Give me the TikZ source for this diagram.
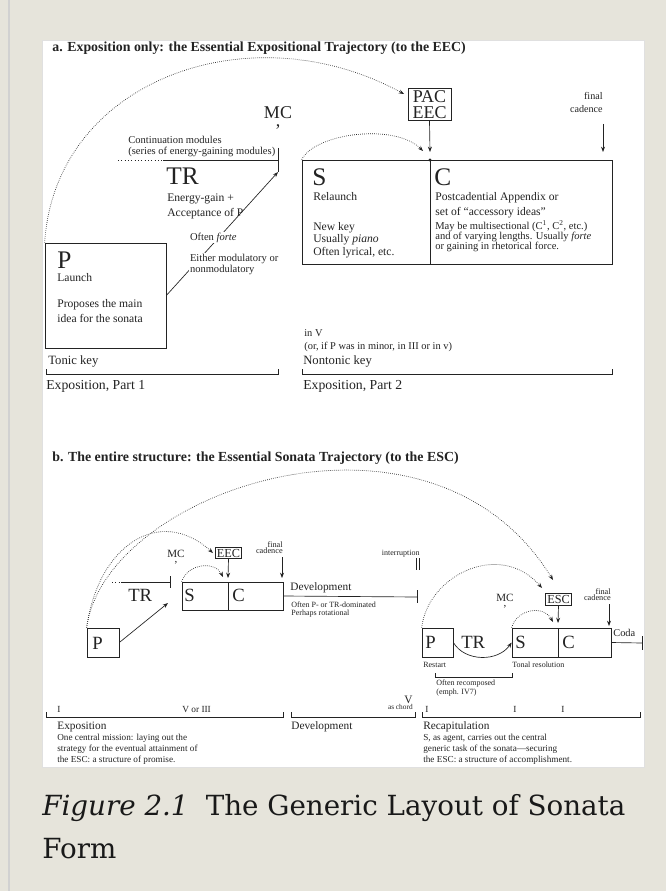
\documentclass[tikz,border=0pt]{standalone}
\usepackage{fontspec}
\setmainfont{Liberation Serif}
\newfontfamily\capfont{DejaVu Serif}
\usetikzlibrary{arrows.meta,fit}

\definecolor{pagebg}{RGB}{230,228,219}
\definecolor{ink}{RGB}{35,35,35}
\newcommand{\fsz}[2]{\fontsize{#1}{#2}\selectfont}

\tikzset{
  txt/.style={inner sep=0pt, anchor=base west},
  rtxt/.style={inner sep=0pt, anchor=base east},
  caesura/.style={inner sep=0pt, anchor=north, align=center},
  box/.style={draw, inner sep=0pt},
  lbox/.style={draw, inner sep=1.2pt},
  traj/.style={densely dotted, ->},
  mask/.style={fill=white, inner sep=0.5pt},
}

\begin{document}
\begin{tikzpicture}[x=0.75pt, y=-0.75pt, line width=0.5pt, >={Stealth[length=4pt,width=3pt]}, color=ink]
    \fill[pagebg] (0,0) rectangle (666,891);
    \useasboundingbox (0,0) rectangle (666,891);
    \draw[black!18, line width=1.5pt] (9,0) -- (9,891);
    \draw[black!12, fill=white] (42,40) rectangle (644,767);

    % a. exposition only
    \node[txt, font=\fsz{10.4}{12}\bfseries] (ttla) at (52,52) {a. Exposition only: the Essential Expositional Trajectory (to the EEC)};

    \node[box, fit={(45,243) (166,348)}] (Pa) {};
    \node[txt, font=\fsz{19}{19}] (Pa-l) at (57,268) {P};
    \node[txt, font=\fsz{8.7}{10}] (Pa-1) at (57,281) {Launch};
    \node[txt, font=\fsz{8.7}{10}] (Pa-2) at (57,307) {Proposes the main};
    \node[txt, font=\fsz{8.7}{10}] (Pa-3) at (57,322) {idea for the sonata};

    \node[caesura, font=\fsz{13.5}{6}] (MCa) at (278,106) {MC\\,};

    \node[txt, font=\fsz{7.9}{8}] (cont1) at (128,144) {Continuation modules};
    \node[txt, font=\fsz{7.9}{8}] (cont2) at (128,155) {(series of energy-gaining modules)};
    \coordinate (TRa-s) at (118,160);
    \coordinate (TRa-m) at (163,160);
    \coordinate (TRa-e) at (278,160);
    \coordinate (TRa-end) at (278,172);
    \draw[dotted] (TRa-s) -- (TRa-m);
    \draw (TRa-m) -- (TRa-e);
    \draw[line width=0.7pt] (278,148) -- (TRa-end);
    \node[txt, font=\fsz{19}{19}] (TRa) at (166,185) {TR};
    \node[txt, font=\fsz{8.7}{10}] (TRa-1) at (167,202) {Energy-gain +};
    \node[txt, font=\fsz{8.7}{10}] (TRa-2) at (167,216) {Acceptance of P};

    \draw[->] (Pa.east) -- (TRa-end);
    \node[txt, mask, font=\fsz{7.9}{8}] (TRa-3) at (189,240) {Often \textit{forte}};
    \node[txt, mask, font=\fsz{7.9}{8}] (TRa-4) at (189,261) {Either modulatory or};
    \node[txt, mask, font=\fsz{7.9}{8}] (TRa-5) at (189,272) {nonmodulatory};

    \node[box, fit={(302,160) (430,264)}] (Sa) {};
    \node[box, fit={(430,160) (612,264)}] (Ca) {};
    \node[txt, font=\fsz{19}{19}] (Sa-l) at (312,186) {S};
    \node[txt, font=\fsz{8.7}{10}] (Sa-1) at (313,200) {Relaunch};
    \node[txt, font=\fsz{8.7}{10}] (Sa-2) at (313,230) {New key};
    \node[txt, font=\fsz{8.7}{10}] (Sa-3) at (313,242) {Usually \textit{piano}};
    \node[txt, font=\fsz{8.7}{10}] (Sa-4) at (313,255) {Often lyrical, etc.};
    \node[txt, font=\fsz{19}{19}] (Ca-l) at (434,186) {C};
    \node[txt, font=\fsz{8.7}{10}] (Ca-1) at (435,200) {Postcadential Appendix or};
    \node[txt, font=\fsz{8.7}{10}] (Ca-2) at (435,215) {set of “accessory ideas”};
    \node[txt, font=\fsz{7.9}{8}] (Ca-3) at (435,229) {May be multisectional (C\textsuperscript{1}, C\textsuperscript{2}, etc.)};
    \node[txt, font=\fsz{7.9}{8}] (Ca-4) at (435,239) {and of varying lengths. Usually \textit{forte}};
    \node[txt, font=\fsz{7.9}{8}] (Ca-5) at (435,249) {or gaining in rhetorical force.};

    \node[lbox, font=\fsz{13.5}{12.5}, align=center, minimum width=32pt] (PAC) at (429.5,104.5) {PAC\\EEC};
    \coordinate (PAC-in) at (404,94);
    \coordinate (SCa-dot) at (430,160);
    \coordinate (SCa-tip) at (430,152);
    \draw[->] (PAC.south) -- (SCa-tip);
    \fill (SCa-dot) circle (1.6);
    \coordinate (Sa-tip) at (423,151);
    \draw[traj] (Sa.north west) .. controls (315,133) and (395,123) .. (Sa-tip);
    \draw[traj] (Pa.north west) .. controls (55,80) and (250,10) .. (PAC-in);

    \node[rtxt, font=\fsz{7.6}{8}] (fca-1) at (603,100) {final};
    \node[rtxt, font=\fsz{7.6}{8}] (fca-2) at (603,113) {cadence};
    \coordinate (fca-s) at (603,124);
    \coordinate (fca-e) at (603,152);
    \draw[->] (fca-s) -- (fca-e);

    \node[txt, font=\fsz{7.8}{8}] (ka-1) at (304,336) {in V};
    \node[txt, font=\fsz{7.8}{8}] (ka-2) at (304,349) {(or, if P was in minor, in III or in v)};
    \node[txt, font=\fsz{9.5}{10}] (ka-3) at (303,364) {Nontonic key};
    \node[txt, font=\fsz{9.5}{10}] (ka-4) at (48,364) {Tonic key};
    \draw (46,369) -- (46,374) -- (278,374) -- (278,369);
    \draw (302,369) -- (302,374) -- (612,374) -- (612,369);
    \node[txt, font=\fsz{10.3}{10}] (ea-1) at (46,389) {Exposition, Part 1};
    \node[txt, font=\fsz{10.3}{10}] (ea-2) at (303,389) {Exposition, Part 2};

    % b. the entire structure
    \node[txt, font=\fsz{10.4}{12}\bfseries] (ttlb) at (52,461) {b. The entire structure: the Essential Sonata Trajectory (to the ESC)};

    \node[box, fit={(87,628) (119,657)}] (Pb) {};
    \node[txt, font=\fsz{14}{14}] (Pb-l) at (92,649) {P};
    \coordinate (TRb-s) at (112,582);
    \coordinate (TRb-m) at (121,582);
    \coordinate (TRb-e) at (170,582);
    \draw[dotted] (TRb-s) -- (TRb-m);
    \draw (TRb-m) -- (TRb-e);
    \draw[line width=0.7pt] (170,576) -- (170,588);
    \node[txt, font=\fsz{14}{14}] (TRb) at (128,601) {TR};
    \coordinate (TRb-end) at (168,603);
    \draw[->] (Pb.east) -- (TRb-end);

    \node[box, fit={(182,582) (228,610)}] (Sb) {};
    \node[box, fit={(228,582) (283,610)}] (Cb) {};
    \node[txt, font=\fsz{14}{14}] (Sb-l) at (184,601) {S};
    \node[txt, font=\fsz{14}{14}] (Cb-l) at (232,601) {C};

    \node[caesura, font=\fsz{8.3}{3.8}] (MCb) at (176,549.5) {MC\\,};
    \node[lbox, font=\fsz{9.2}{10}] (EEC) at (228.5,553) {EEC};
    \coordinate (Cb-tip) at (228,578);
    \draw[->] (EEC.south) -- (Cb-tip);
    \node[rtxt, font=\fsz{6.2}{6}] (fcb-1) at (283,547) {final};
    \node[rtxt, font=\fsz{6.2}{6}] (fcb-2) at (283,553) {cadence};
    \coordinate (fcb-s) at (282,557);
    \coordinate (fcb-e) at (282,578);
    \draw[->] (fcb-s) -- (fcb-e);
    \coordinate (Sb-tip) at (223,577);
    \draw[traj] (Sb.north west) .. controls (188,563) and (215,561) .. (Sb-tip);
    \coordinate (EEC-in) at (213,553);
    \draw[traj] (Pb.north west) .. controls (98,545) and (160,505) .. (EEC-in);

    \coordinate (Dev-e) at (417,597);
    \draw (Cb.east) -- (Dev-e);
    \draw[line width=0.7pt] (417,590) -- (417,603);
    \node[txt, font=\fsz{8.5}{10}] (Dev) at (290,590) {Development};
    \node[txt, font=\fsz{6}{6}] (Dev-1) at (291,607) {Often P- or TR-dominated};
    \node[txt, font=\fsz{6}{6}] (Dev-2) at (291,615) {Perhaps rotational};
    \node[rtxt, font=\fsz{6}{6}] (intr) at (420,555) {interruption};
    \draw (416,558) -- (416,570);
    \draw (419,558) -- (419,570);

    \node[box, fit={(422,628) (453,657)}] (Pr) {};
    \node[txt, font=\fsz{14}{14}] (Pr-l) at (425,648) {P};
    \node[txt, font=\fsz{14}{14}] (TRr) at (461,648) {TR};
    \node[box, fit={(512,628) (558,657)}] (Sr) {};
    \node[box, fit={(558,628) (611,657)}] (Cr) {};
    \node[txt, font=\fsz{14}{14}] (Sr-l) at (515,648) {S};
    \node[txt, font=\fsz{14}{14}] (Cr-l) at (562,648) {C};
    \draw[->] (Pr.east) .. controls (465,662) and (498,662) .. (Sr.west);

    \node[caesura, font=\fsz{8.3}{3.8}] (MCr) at (505,593.5) {MC\\,};
    \node[lbox, font=\fsz{9.2}{10}] (ESC) at (558.5,599.5) {ESC};
    \coordinate (Cr-tip) at (558,623);
    \draw[->] (ESC.south) -- (Cr-tip);
    \node[rtxt, font=\fsz{6.2}{6}] (fcr-1) at (611,594) {final};
    \node[rtxt, font=\fsz{6.2}{6}] (fcr-2) at (611,600) {cadence};
    \coordinate (fcr-s) at (609,604);
    \coordinate (fcr-e) at (609,626);
    \draw[->] (fcr-s) -- (fcr-e);
    \coordinate (Sr-tip) at (553,622);
    \draw[traj] (Sr.north west) .. controls (516,610) and (543,604) .. (Sr-tip);
    \coordinate (ESC-in1) at (542,588);
    \draw[traj] (Pr.north west) .. controls (428,575) and (500,540) .. (ESC-in1);
    \coordinate (ESC-in2) at (553,580);
    \draw[traj] (Pb.north west) .. controls (105,490) and (430,380) .. (ESC-in2);

    \coordinate (Coda-e) at (642,643);
    \draw (Cr.east) -- (Coda-e);
    \draw[line width=0.7pt] (642,636) -- (642,650);
    \node[txt, font=\fsz{7.8}{8}] (Coda) at (613,636) {Coda};

    \node[txt, font=\fsz{6}{6}] (Rst) at (423,667) {Restart};
    \node[txt, font=\fsz{6}{6}] (Tres) at (512,667) {Tonal resolution};
    \draw (435,673) -- (435,677) -- (512,677) -- (512,673);
    \node[txt, font=\fsz{6}{6}] (Rcm-1) at (436,685) {Often recomposed};
    \node[txt, font=\fsz{6}{6}] (Rcm-2) at (436,694) {(emph. IV7)};

    % keys and sections
    \node[txt, font=\fsz{7}{8}] (kb-1) at (57,712) {I};
    \node[txt, font=\fsz{7}{8}] (kb-2) at (182,712) {V or III};
    \node[txt, font=\fsz{8.5}{9}] (kb-3) at (404,703) {V};
    \node[rtxt, font=\fsz{5.5}{5}] (kb-4) at (413,709) {as chord};
    \node[txt, font=\fsz{7}{8}] (kb-5) at (425,712) {I};
    \node[txt, font=\fsz{7}{8}] (kb-6) at (513,712) {I};
    \node[txt, font=\fsz{7}{8}] (kb-7) at (561,712) {I};
    \draw (46,712) -- (46,717) -- (283,717) -- (283,712);
    \draw (291,712) -- (291,717) -- (415,717) -- (415,712);
    \draw (422,712) -- (422,717) -- (640,717) -- (640,712);

    \node[txt, font=\fsz{8.5}{9}] (Ex) at (57,729) {Exposition};
    \node[txt, font=\fsz{6.9}{8}] (Ex-1) at (57,740) {One central mission: laying out the};
    \node[txt, font=\fsz{6.9}{8}] (Ex-2) at (57,751) {strategy for the eventual attainment of};
    \node[txt, font=\fsz{6.9}{8}] (Ex-3) at (57,762) {the ESC: a structure of promise.};
    \node[txt, font=\fsz{8.5}{9}] (Dv) at (291,729) {Development};
    \node[txt, font=\fsz{8.5}{9}] (Rc) at (423,729) {Recapitulation};
    \node[txt, font=\fsz{6.9}{8}] (Rc-1) at (423,740) {S, as agent, carries out the central};
    \node[txt, font=\fsz{6.9}{8}] (Rc-2) at (423,751) {generic task of the sonata—securing};
    \node[txt, font=\fsz{6.9}{8}] (Rc-3) at (423,762) {the ESC: a structure of accomplishment.};

    % caption
    \node[txt, font=\capfont\fsz{20.8}{24}, color=black!90] (cap-1) at (42,815) {\textit{Figure 2.1}\hspace{0.3em} The Generic Layout of Sonata};
    \node[txt, font=\capfont\fsz{20.8}{24}, color=black!90] (cap-2) at (42,858) {Form};
\end{tikzpicture}
\end{document}
